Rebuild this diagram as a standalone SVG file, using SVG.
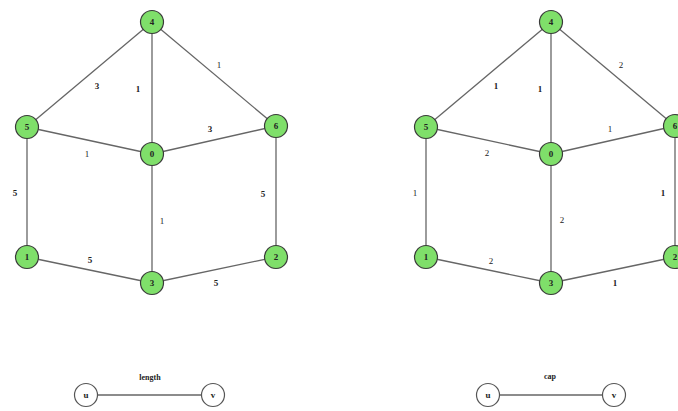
<svg xmlns="http://www.w3.org/2000/svg" width="678" height="411" viewBox="0 0 678 411">
<style>
.e{stroke:#666;stroke-width:1.3;fill:none}
.n circle{fill:#7fdf6a;stroke:#3a3a3a;stroke-width:1.2}
.l circle{fill:#fff;stroke:#555;stroke-width:1.2}
.t{font-family:"Liberation Serif",serif;font-size:9px;font-weight:bold;fill:#222;text-anchor:middle;dominant-baseline:central}
.w{font-family:"Liberation Serif",serif;font-size:9px;fill:#222;text-anchor:middle;dominant-baseline:central}
</style>
<rect width="678" height="411" fill="#fff"/>
<g id="connectors">
<line class="e" x1="152" y1="22" x2="27" y2="127"/>
<line class="e" x1="152" y1="22" x2="152" y2="154"/>
<line class="e" x1="152" y1="22" x2="276" y2="126"/>
<line class="e" x1="27" y1="127" x2="152" y2="154"/>
<line class="e" x1="152" y1="154" x2="276" y2="126"/>
<line class="e" x1="27" y1="127" x2="27" y2="257"/>
<line class="e" x1="276" y1="126" x2="276" y2="257"/>
<line class="e" x1="152" y1="154" x2="152" y2="283"/>
<line class="e" x1="27" y1="257" x2="152" y2="283"/>
<line class="e" x1="152" y1="283" x2="276" y2="257"/>
<line class="e" x1="551" y1="22" x2="426" y2="127"/>
<line class="e" x1="551" y1="22" x2="551" y2="154"/>
<line class="e" x1="551" y1="22" x2="675" y2="126"/>
<line class="e" x1="426" y1="127" x2="551" y2="154"/>
<line class="e" x1="551" y1="154" x2="675" y2="126"/>
<line class="e" x1="426" y1="127" x2="426" y2="257"/>
<line class="e" x1="675" y1="126" x2="675" y2="257"/>
<line class="e" x1="551" y1="154" x2="551" y2="283"/>
<line class="e" x1="426" y1="257" x2="551" y2="283"/>
<line class="e" x1="551" y1="283" x2="675" y2="257"/>
<line class="e" x1="86" y1="395" x2="213" y2="395"/>
<line class="e" x1="488" y1="395" x2="614" y2="395"/>
</g>
<g id="edge-labels">
<text class="t" x="97" y="86">3</text>
<text class="t" x="138" y="89">1</text>
<text class="w" x="219" y="65">1</text>
<text class="w" x="87" y="154">1</text>
<text class="t" x="210" y="129">3</text>
<text class="t" x="15" y="193">5</text>
<text class="t" x="263" y="194">5</text>
<text class="w" x="162" y="221">1</text>
<text class="t" x="90" y="260">5</text>
<text class="t" x="216" y="283">5</text>
<text class="t" x="496" y="86">1</text>
<text class="t" x="540" y="89">1</text>
<text class="w" x="621" y="65">2</text>
<text class="w" x="487" y="153">2</text>
<text class="w" x="610" y="129">1</text>
<text class="w" x="415" y="193">1</text>
<text class="t" x="663" y="193">1</text>
<text class="w" x="562" y="220">2</text>
<text class="w" x="491" y="261">2</text>
<text class="t" x="615" y="283">1</text>
<text class="t" x="150" y="377" style="font-size:8px">length</text>
<text class="t" x="550" y="376" style="font-size:8px">cap</text>
</g>
<g id="n4a" class="n"><circle cx="152" cy="22" r="11.5"/><text class="t" x="152" y="22">4</text></g>
<g id="n5a" class="n"><circle cx="27" cy="127" r="11.5"/><text class="t" x="27" y="127">5</text></g>
<g id="n6a" class="n"><circle cx="276" cy="126" r="11.5"/><text class="t" x="276" y="126">6</text></g>
<g id="n0a" class="n"><circle cx="152" cy="154" r="11.5"/><text class="t" x="152" y="154">0</text></g>
<g id="n1a" class="n"><circle cx="27" cy="257" r="11.5"/><text class="t" x="27" y="257">1</text></g>
<g id="n3a" class="n"><circle cx="152" cy="283" r="11.5"/><text class="t" x="152" y="283">3</text></g>
<g id="n2a" class="n"><circle cx="276" cy="257" r="11.5"/><text class="t" x="276" y="257">2</text></g>
<g id="n4b" class="n"><circle cx="551" cy="22" r="11.5"/><text class="t" x="551" y="22">4</text></g>
<g id="n5b" class="n"><circle cx="426" cy="127" r="11.5"/><text class="t" x="426" y="127">5</text></g>
<g id="n6b" class="n"><circle cx="675" cy="126" r="11.5"/><text class="t" x="675" y="126">6</text></g>
<g id="n0b" class="n"><circle cx="551" cy="154" r="11.5"/><text class="t" x="551" y="154">0</text></g>
<g id="n1b" class="n"><circle cx="426" cy="257" r="11.5"/><text class="t" x="426" y="257">1</text></g>
<g id="n3b" class="n"><circle cx="551" cy="283" r="11.5"/><text class="t" x="551" y="283">3</text></g>
<g id="n2b" class="n"><circle cx="675" cy="257" r="11.5"/><text class="t" x="675" y="257">2</text></g>
<g id="ua" class="l"><circle cx="86" cy="395" r="11.5"/><text class="t" x="86" y="395">u</text></g>
<g id="va" class="l"><circle cx="213" cy="395" r="11.5"/><text class="t" x="213" y="395">v</text></g>
<g id="ub" class="l"><circle cx="488" cy="395" r="11.5"/><text class="t" x="488" y="395">u</text></g>
<g id="vb" class="l"><circle cx="614" cy="395" r="11.5"/><text class="t" x="614" y="395">v</text></g>
</svg>
